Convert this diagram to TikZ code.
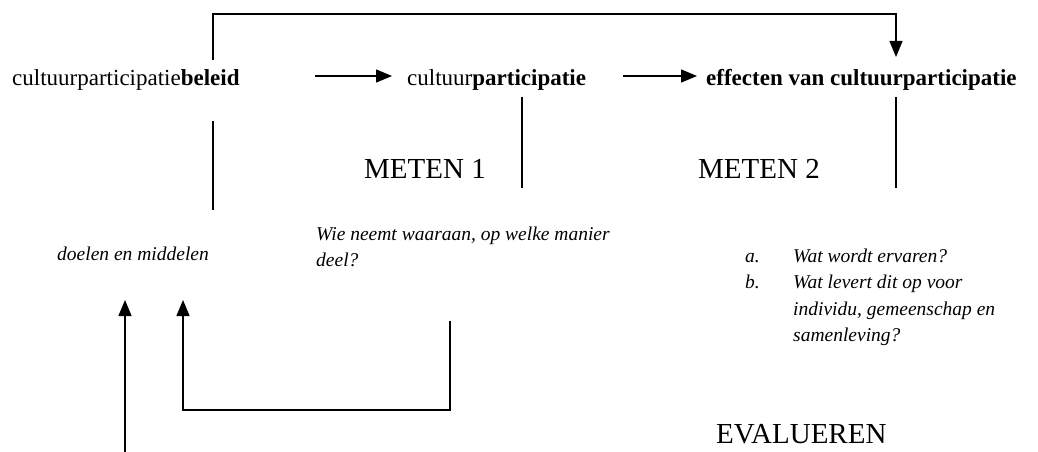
\documentclass[tikz,border=0pt]{standalone}
\usepackage{fontspec}
\setmainfont{Liberation Serif}
\usetikzlibrary{arrows.meta}
\begin{document}
\begin{tikzpicture}[x=1pt,y=-1pt,
  conn/.style={line width=1.5pt},
  arrow/.style={conn, -{Triangle[length=16pt,width=13pt]}},
  maintext/.style={inner sep=0pt, anchor=base west, font=\fontsize{23}{28}\selectfont},
  phase/.style={inner sep=0pt, anchor=base west, font=\fontsize{29}{34}\selectfont},
  question/.style={inner sep=0pt, anchor=base west, font=\fontsize{19.5}{26.5}\selectfont\itshape},
]
\useasboundingbox (0,0) rectangle (1038,452);

% chain of concepts
\node[maintext] (beleid) at (12,85) {cultuurparticipatie\textbf{beleid}};
\node[maintext] (part)   at (407,85) {cultuur\textbf{participatie}};
\node[maintext] (effect) at (706,85) {\textbf{effecten van cultuurparticipatie}};

% phases
\node[phase] (meten1) at (364,178) {METEN 1};
\node[phase] (meten2) at (698,178) {METEN 2};
\node[phase] (eval)   at (716,443) {EVALUEREN};

% questions
\node[question] (doelen) at (57,260) {doelen en middelen};
\node[question] (wie) at (316,240)
  {\begin{tabular}[t]{@{}l@{}}Wie neemt waaraan, op welke manier\\deel?\end{tabular}};
\node[question] (vragen) at (745,262)
  {\begin{tabular}[t]{@{}l@{}}
   \makebox[48pt][l]{a.}Wat wordt ervaren?\\
   \makebox[48pt][l]{b.}Wat levert dit op voor\\
   \hspace*{48pt}individu, gemeenschap en\\
   \hspace*{48pt}samenleving?
   \end{tabular}};

% connector end points
\coordinate (fbStart) at (213,60);
\coordinate (fbTop)   at (213,14);
\coordinate (fbEnd)   at (896,57);
\coordinate (a1s) at (315,76);
\coordinate (a1e) at (392,76);
\coordinate (a2s) at (623,76);
\coordinate (a2e) at (697,76);
\coordinate (v1t) at (213,121);
\coordinate (v1b) at (213,210);
\coordinate (v2t) at (522,97);
\coordinate (v2b) at (522,188);
\coordinate (v3t) at (896,97);
\coordinate (v3b) at (896,188);
\coordinate (upLs) at (125,452);
\coordinate (upLe) at (125,300);
\coordinate (loopS) at (450,321);
\coordinate (loopC) at (183,410);
\coordinate (loopE) at (183,300);

% feedback from policy to effects
\draw[arrow] (fbStart) -- (fbTop) -| (fbEnd);

% main chain arrows
\draw[arrow] (a1s) -- (a1e);
\draw[arrow] (a2s) -- (a2e);

% vertical lines
\draw[conn] (v1t) -- (v1b);
\draw[conn] (v2t) -- (v2b);
\draw[conn] (v3t) -- (v3b);

% arrows back to goals and means
\draw[arrow] (upLs) -- (upLe);
\draw[arrow] (loopS) |- (loopC) -- (loopE);
\end{tikzpicture}
\end{document}
